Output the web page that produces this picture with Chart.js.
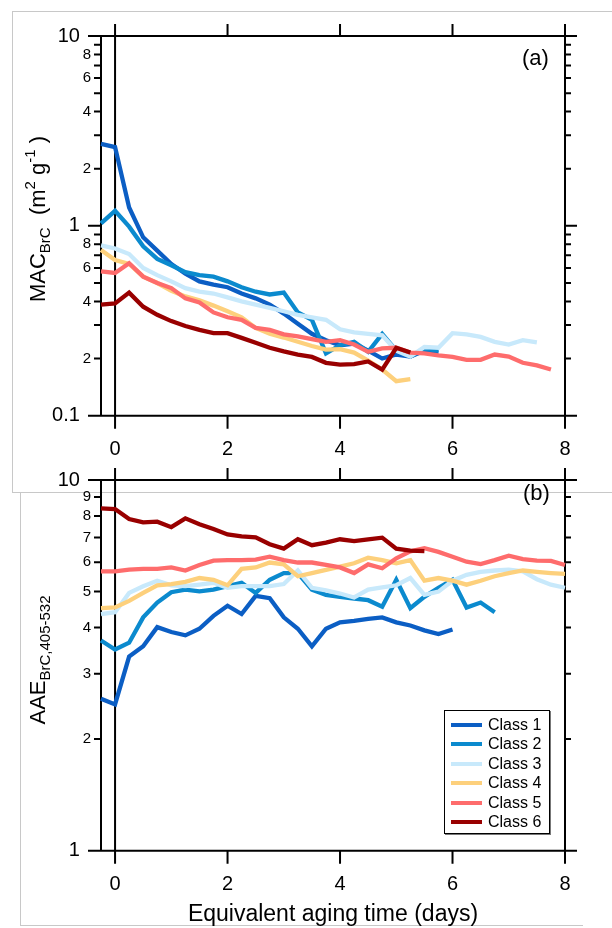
<!DOCTYPE html>
<html>
<head>
<meta charset="utf-8">
<script src="https://cdn.jsdelivr.net/npm/chart.js@4.4.1/dist/chart.umd.min.js"></script>
<style>
  html, body { margin: 0; padding: 0; background: #fff; }
  body { width: 612px; height: 928px; position: relative; overflow: hidden;
         font-family: "Liberation Sans", Arial, sans-serif; color: #000; }
  .frameA { position: absolute; left: 12px; top: 11px; width: 660px; height: 480px; border: 1px solid #c8c8c8; }
  .frameB { position: absolute; left: 20px; top: 493px; width: 562px; height: 432px;
            border-left: 1px solid #c8c8c8; border-bottom: 1px solid #c8c8c8; background: #fff; }
  canvas { position: absolute; left: 0; }
  #macChart { top: 0; }
  #aaeChart { top: 458px; }
  .ytitle { position: absolute; transform: translate(-50%, -50%) rotate(-90deg);
            white-space: nowrap; font-size: 22px; line-height: 1; }
  .ytitle .sub { font-size: 15px; position: relative; top: 5px; }
  .ytitle .sup { font-size: 15px; position: relative; top: -10px; }
  .tag { position: absolute; font-size: 22px; line-height: 1; }
  #legend { position: absolute; left: 444px; top: 710px; width: 104px; height: 118px; padding-top: 4px;
            border: 1.5px solid #000; background: #fff; box-shadow: 1px 1px 0 #777; }
  #legend .row { position: relative; height: 19.4px; line-height: 19.4px; font-size: 16px; padding-left: 43px; }
  #legend .swatch { position: absolute; left: 6px; top: 8px; width: 31px; height: 4px; }
</style>
</head>
<body>
<div class="frameA"></div>
<div class="frameB"></div>
<canvas id="macChart" width="612" height="470"></canvas>
<canvas id="aaeChart" width="612" height="470"></canvas>

<div class="ytitle" style="left:38px; top:219px;">MAC<span class="sub">BrC</span>&nbsp;&nbsp;(m<span class="sup">2</span>&nbsp;g<span class="sup">-1</span>&nbsp;)</div>
<div class="ytitle" style="left:38px; top:660px;">AAE<span class="sub">BrC,405-532</span></div>
<div class="tag" style="left:522px; top:47px;">(a)</div>
<div class="tag" style="left:523px; top:482px;">(b)</div>
<div id="legend"></div>

<script>
// equivalent aging time (days)
const days = [-0.25, 0, 0.25, 0.5, 0.75, 1, 1.25, 1.5, 1.75, 2, 2.25, 2.5, 2.75, 3, 3.25, 3.5, 3.75,
              4, 4.25, 4.5, 4.75, 5, 5.25, 5.5, 5.75, 6, 6.25, 6.5, 6.75, 7, 7.25, 7.5, 7.75, 8];

const classNames = ["Class 1", "Class 2", "Class 3", "Class 4", "Class 5", "Class 6"];
const classColors = ["#0b5ec4", "#0b8ace", "#c8e9fb", "#fdd07c", "#fe6c6c", "#990000"];

// panel (a): MAC BrC (m2 g-1)
const macClass1 = [2.7, 2.6, 1.25, 0.87, 0.74, 0.63, 0.56, 0.51, 0.49, 0.475, 0.44, 0.415, 0.385, 0.345,
                   0.305, 0.27, 0.25, 0.235, 0.24, 0.22, 0.2, 0.21, 0.205, 0.22, 0.215];
const macClass2 = [1.03, 1.2, 0.99, 0.78, 0.67, 0.62, 0.57, 0.55, 0.54, 0.51, 0.475, 0.45, 0.435, 0.445,
                   0.35, 0.32, 0.213, 0.235, 0.245, 0.217, 0.27, 0.22, 0.205, 0.225, 0.22];
const macClass3 = [0.79, 0.76, 0.71, 0.6, 0.55, 0.51, 0.47, 0.45, 0.44, 0.42, 0.4, 0.385, 0.37, 0.355,
                   0.34, 0.33, 0.32, 0.285, 0.275, 0.27, 0.265, 0.22, 0.205, 0.23, 0.228, 0.272, 0.268,
                   0.26, 0.245, 0.237, 0.25, 0.243];
const macClass4 = [0.745, 0.66, 0.63, 0.54, 0.5, 0.455, 0.425, 0.405, 0.38, 0.355, 0.33, 0.29, 0.27, 0.258,
                   0.245, 0.233, 0.223, 0.224, 0.215, 0.195, 0.175, 0.152, 0.156];
const macClass5 = [0.575, 0.565, 0.635, 0.54, 0.5, 0.47, 0.415, 0.395, 0.35, 0.33, 0.32, 0.29, 0.283, 0.268,
                   0.262, 0.253, 0.245, 0.25, 0.237, 0.217, 0.226, 0.228, 0.215, 0.213, 0.208, 0.204, 0.197,
                   0.197, 0.21, 0.205, 0.19, 0.184, 0.175];
const macClass6 = [0.385, 0.39, 0.445, 0.375, 0.34, 0.315, 0.297, 0.283, 0.272, 0.272, 0.257, 0.242, 0.228,
                   0.218, 0.21, 0.204, 0.19, 0.186, 0.187, 0.193, 0.175, 0.228, 0.215];

// panel (b): AAE BrC,405-532
const aaeClass1 = [2.57, 2.48, 3.34, 3.56, 4.01, 3.89, 3.81, 3.97, 4.3, 4.58, 4.35, 4.87, 4.8, 4.26, 3.97,
                   3.56, 3.97, 4.13, 4.17, 4.22, 4.26, 4.13, 4.05, 3.93, 3.84, 3.95];
const aaeClass2 = [3.69, 3.49, 3.64, 4.26, 4.67, 4.98, 5.06, 5.01, 5.06, 5.17, 5.28, 4.96, 5.38, 5.61, 5.61,
                   5.06, 4.9, 4.84, 4.79, 4.74, 4.55, 5.38, 4.51, 4.84, 5.12, 5.38, 4.53, 4.67, 4.4];
const aaeClass3 = [4.35, 4.4, 4.96, 5.17, 5.35, 5.2, 5.17, 5.22, 5.28, 5.12, 5.17, 5.17, 5.17, 5.24, 5.7,
                   5.12, 5.04, 4.94, 4.82, 5.06, 5.13, 5.2, 5.44, 4.9, 5.0, 5.35, 5.55, 5.65, 5.7, 5.73,
                   5.67, 5.4, 5.22, 5.12];
const aaeClass4 = [4.51, 4.53, 4.72, 4.96, 5.2, 5.24, 5.31, 5.44, 5.38, 5.2, 5.76, 5.81, 5.99, 5.92, 5.5,
                   5.61, 5.72, 5.84, 5.96, 6.17, 6.08, 5.96, 6.08, 5.35, 5.44, 5.35, 5.22, 5.35, 5.5, 5.61,
                   5.7, 5.65, 5.61, 5.58];
const aaeClass5 = [5.67, 5.67, 5.73, 5.76, 5.76, 5.81, 5.7, 5.9, 6.06, 6.08, 6.08, 6.1, 6.21, 6.08, 5.99,
                   5.99, 5.9, 5.81, 5.61, 5.92, 5.78, 6.15, 6.42, 6.55, 6.4, 6.21, 6.02, 5.93, 6.08, 6.25,
                   6.12, 6.06, 6.05, 5.9];
const aaeClass6 = [8.38, 8.35, 7.85, 7.69, 7.72, 7.46, 7.88, 7.6, 7.38, 7.13, 7.05, 7.0, 6.71, 6.53, 6.92,
                   6.67, 6.78, 6.92, 6.84, 6.92, 6.99, 6.53, 6.45, 6.43];

// axis ticks
const xTicks = [0, 2, 4, 6, 8];
const macTickValues = [0.1, 0.2, 0.3, 0.4, 0.5, 0.6, 0.7, 0.8, 0.9, 1, 2, 3, 4, 5, 6, 7, 8, 9, 10];
const macTickLabels = ["0.1", "2", "", "4", "", "6", "", "8", "", "1", "2", "", "4", "", "6", "", "8", "", "10"];
const aaeTickValues = [1, 2, 3, 4, 5, 6, 7, 8, 9, 10];
const aaeTickLabels = ["1", "2", "3", "4", "5", "6", "7", "8", "9", "10"];
const majorTicks = [0.1, 1, 10];

Chart.defaults.font.family = '"Liberation Sans", Arial, sans-serif';
Chart.defaults.color = '#000';

// box, zero line and Igor-style outward ticks
const frame = {
  id: 'frame',
  beforeDatasetsDraw(chart) {
    const { ctx, chartArea: a, scales: { x, y } } = chart;
    ctx.save();
    ctx.strokeStyle = '#000';
    ctx.lineWidth = 2;
    ctx.beginPath();
    ctx.rect(a.left, a.top, a.right - a.left, a.bottom - a.top);
    const x0 = x.getPixelForValue(0);
    ctx.moveTo(x0, a.top);
    ctx.lineTo(x0, a.bottom);
    x.ticks.forEach(t => {
      const px = x.getPixelForValue(t.value);
      ctx.moveTo(px, a.top - 12); ctx.lineTo(px, a.top);
      ctx.moveTo(px, a.bottom); ctx.lineTo(px, a.bottom + 13);
    });
    y.ticks.forEach(t => {
      const py = y.getPixelForValue(t.value);
      const major = majorTicks.includes(t.value);
      ctx.moveTo(a.left - (major ? 13 : 7), py); ctx.lineTo(a.left, py);
      ctx.moveTo(a.right, py); ctx.lineTo(a.right + (major ? 12 : 6), py);
    });
    ctx.stroke();
    ctx.restore();
  }
};

function makePanel(id, series, yMin, yMax, tickValues, tickLabels, cfg) {
  return new Chart(document.getElementById(id), {
    type: 'line',
    data: {
      datasets: series.map((vals, i) => ({
        label: classNames[i],
        data: vals.map((v, j) => ({ x: days[j], y: v })),
        borderColor: classColors[i],
        borderWidth: 4.3,
        pointRadius: 0,
        fill: false,
        tension: 0,
        clip: false,
        order: series.length - i
      }))
    },
    options: {
      responsive: false,
      animation: false,
      devicePixelRatio: 1,
      layout: { padding: { top: cfg.top, right: 47, left: 0, bottom: 0 } },
      plugins: { legend: { display: false }, tooltip: { enabled: false } },
      scales: {
        x: {
          type: 'linear', min: -0.25, max: 8,
          afterBuildTicks: s => { s.ticks = xTicks.map(v => ({ value: v })); },
          afterFit: s => { s.height = cfg.xHeight; },
          grid: { display: false, drawTicks: false },
          border: { display: false },
          ticks: { font: { size: 20 }, color: '#000', padding: 22, maxRotation: 0, autoSkip: false },
          title: cfg.xTitle || { display: false }
        },
        y: {
          type: 'logarithmic', min: yMin, max: yMax,
          afterBuildTicks: s => { s.ticks = tickValues.map(v => ({ value: v })); },
          afterFit: s => { s.width = 101; },
          grid: { display: false, drawTicks: false },
          border: { display: false },
          ticks: {
            autoSkip: false,
            color: '#000',
            padding: 10,
            callback: v => {
              const k = tickValues.indexOf(v);
              const lab = k < 0 ? '' : tickLabels[k];
              return majorTicks.includes(v) ? lab + '  ' : lab;
            },
            font: c => ({ size: c.tick && majorTicks.includes(c.tick.value) ? 20 : 15 })
          }
        }
      }
    },
    plugins: [frame]
  });
}

makePanel('macChart', [macClass1, macClass2, macClass3, macClass4, macClass5, macClass6],
  0.1, 10, macTickValues, macTickLabels, { top: 36, xHeight: 54.3 });

makePanel('aaeChart', [aaeClass1, aaeClass2, aaeClass3, aaeClass4, aaeClass5, aaeClass6],
  1, 10, aaeTickValues, aaeTickLabels, {
    top: 15.7, xHeight: 77.3,
    xTitle: { display: true, text: 'Equivalent aging time (days)', font: { size: 23 }, color: '#000',
              padding: { top: 0, bottom: 0 } }
  });

// legend box
const legend = document.getElementById('legend');
classNames.forEach((name, i) => {
  const row = document.createElement('div');
  row.className = 'row';
  row.innerHTML = '<span class="swatch" style="background:' + classColors[i] + '"></span>' + name;
  legend.appendChild(row);
});
</script>
</body>
</html>
